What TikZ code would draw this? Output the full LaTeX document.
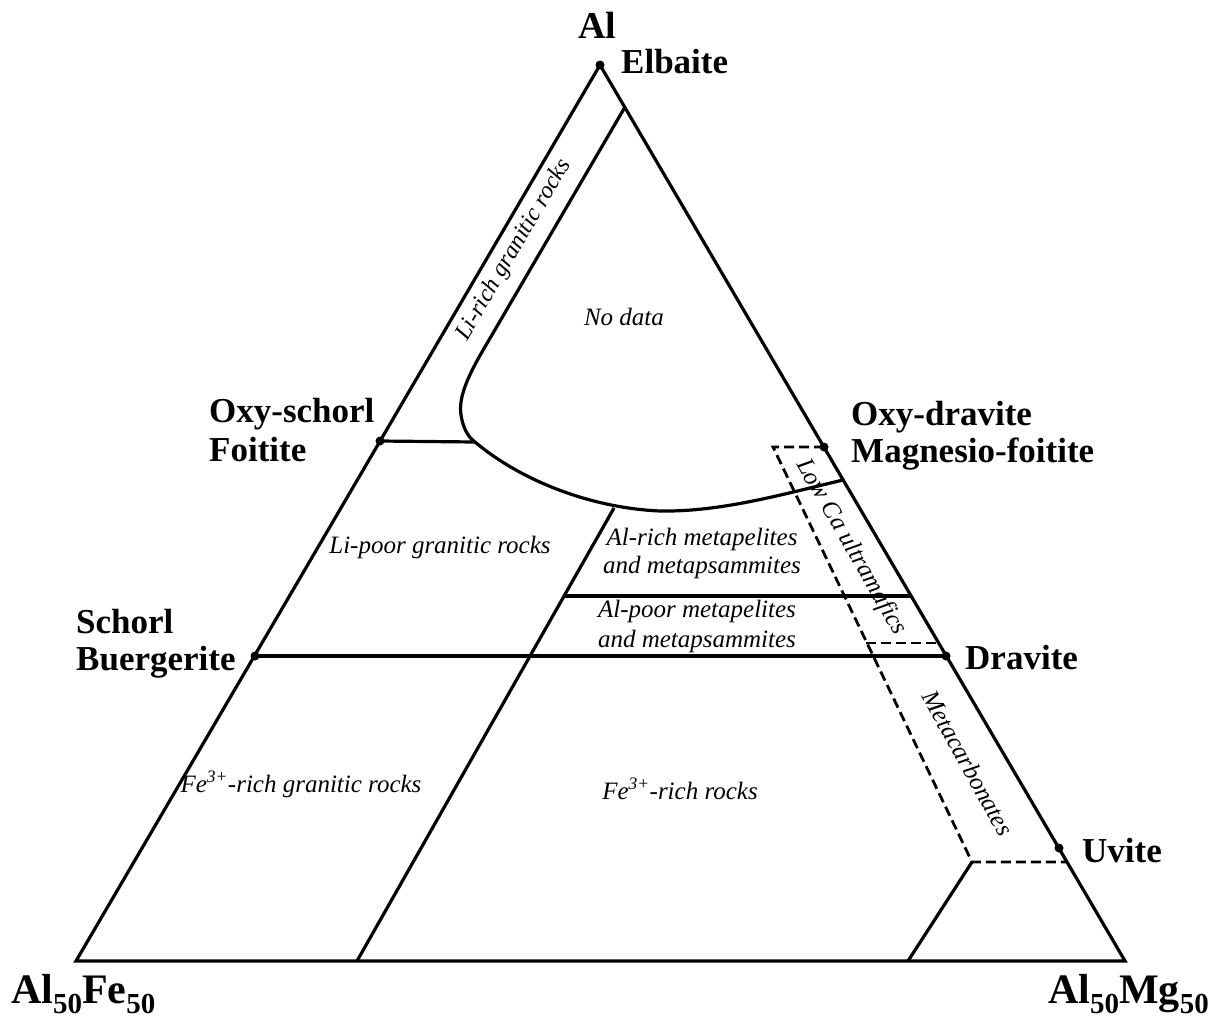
\documentclass[tikz,border=0pt]{standalone}
\usepackage{fontspec}
\setmainfont{Liberation Serif}
\newcommand\lowsub[1]{\raisebox{-10pt}{\fontsize{29}{29}\selectfont #1}}
\begin{document}
\begin{tikzpicture}[x=1pt,y=-1pt,
  edge/.style={line width=3.2pt, line join=miter},
  dashline/.style={line width=2.8pt, dash pattern=on 10pt off 5pt},
  dot/.style={circle, fill=black, inner sep=0pt, minimum size=9pt},
  bl/.style={font=\fontsize{35}{40}\selectfont\bfseries, inner sep=0pt, anchor=base west},
  corner/.style={font=\fontsize{42}{46}\selectfont\bfseries, inner sep=0pt, anchor=base west},
  it/.style={font=\fontsize{25}{30}\selectfont\itshape, inner sep=0pt, anchor=base}]
\useasboundingbox (0,0) rectangle (1218,1017);
% vertices and points
\coordinate (T) at (600,65);
\coordinate (L) at (76,961);
\coordinate (R) at (1125,961);
\coordinate (OS) at (380,441);
\coordinate (SB) at (255,656);
\coordinate (OD) at (824,447);
\coordinate (DR) at (946,656);
\coordinate (UV) at (1059,848);
\coordinate (LiTop) at (625,107);
\coordinate (LiBend) at (489,340);
\coordinate (CL) at (475,442);
\coordinate (CM) at (660,511);
\coordinate (CR) at (843,480);
\coordinate (MP) at (614,508);
\coordinate (MB) at (357,961);
\coordinate (AP1) at (565,596);
\coordinate (AP2) at (911,596);
\coordinate (UB) at (908,961);
\coordinate (UT) at (972,862);
\coordinate (UR) at (1067,862);
\coordinate (DB1) at (773,447);
\coordinate (DB2) at (866,643);
\coordinate (DB3) at (939,643);
% solid lines
\draw[edge] (T) -- (L) -- (R) -- cycle;
\draw[edge] (LiTop) -- (LiBend)
  .. controls (470,372) and (458,395) .. (461,415)
  .. controls (463,428) and (468,437) .. (CL)
  .. controls (520,480) and (590,508) .. (CM)
  .. controls (720,512) and (780,495) .. (CR);
\draw[edge] (OS) -- (CL);
\draw[edge] (MP) -- (MB);
\draw[edge] (AP1) -- (AP2);
\draw[edge] (SB) -- (DR);
\draw[edge] (UB) -- (UT);
% dashed lines
\draw[dashline] (OD) -- (DB1) -- (UT) -- (UR);
\draw[dashline] (DB2) -- (DB3);
% dots
\node[dot] (dEl) at (T) {};
\node[dot] (dOS) at (OS) {};
\node[dot] (dSB) at (SB) {};
\node[dot] (dOD) at (OD) {};
\node[dot] (dDR) at (DR) {};
\node[dot] (dUV) at (UV) {};
% bold labels
\node[bl, anchor=base, font=\fontsize{38}{40}\selectfont\bfseries] (al) at (597,38) {Al};
\node[bl] (elb) at (621,73) {Elbaite};
\node[bl] (oxs) at (209,422) {Oxy-schorl};
\node[bl] (foi) at (209,461) {Foitite};
\node[bl] (sch) at (76,633) {Schorl};
\node[bl] (bue) at (76,670) {Buergerite};
\node[bl] (oxd) at (851,425) {Oxy-dravite};
\node[bl] (mgf) at (851,462) {Magnesio-foitite};
\node[bl] (drv) at (965,669) {Dravite};
\node[bl] (uvi) at (1082,862) {Uvite};
\node[corner] (alfe) at (11,1003) {Al\lowsub{50}Fe\lowsub{50}};
\node[corner] (almg) at (1048,1003) {Al\lowsub{50}Mg\lowsub{50}};
% italic labels
\node[it] (nod) at (624,325) {No data};
\node[it, anchor=center, rotate=59.7, font=\fontsize{24}{28}\selectfont\itshape] (lir) at (514,250) {Li-rich granitic rocks};
\node[it] (lip) at (440,553) {Li-poor granitic rocks};
\node[it] (alr1) at (702,545) {Al-rich metapelites};
\node[it] (alr2) at (702,573) {and metapsammites};
\node[it] (alp1) at (697,617) {Al-poor metapelites};
\node[it] (alp2) at (697,647) {and metapsammites};
\node[it, anchor=center, rotate=-60] (lca) at (851,547) {Low Ca ultramafics};
\node[it, anchor=center, rotate=-61] (mca) at (968,763) {Metacarbonates};
\node[it] (feg) at (301,792) {Fe\textsuperscript{3+}-rich granitic rocks};
\node[it] (fer) at (680,799) {Fe\textsuperscript{3+}-rich rocks};
\end{tikzpicture}
\end{document}
